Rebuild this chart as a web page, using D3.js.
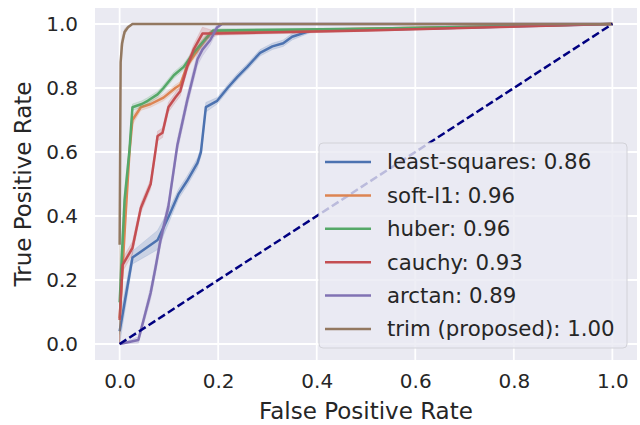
<!DOCTYPE html>
<html>
<head>
<meta charset="utf-8">
<script src="https://cdn.jsdelivr.net/npm/d3@7"></script>
<style>
  body { margin: 0; background: #fff; }
  svg { display: block; font-family: "DejaVu Sans", sans-serif; }
</style>
</head>
<body>
<svg id="rocSvg" width="640" height="425"></svg>
<script>
// series: fpr / tpr / ci half-width
const seriesNames = ["least-squares", "soft-l1", "huber", "cauchy", "arctan", "trim (proposed)"];
const aucValues = [0.86, 0.96, 0.96, 0.93, 0.89, 1.0];
const tickValues = [0, 0.2, 0.4, 0.6, 0.8, 1.0];

const lsFpr = [0, 0.026, 0.077, 0.10, 0.12, 0.137, 0.158, 0.165, 0.175, 0.198, 0.219, 0.239, 0.259, 0.285, 0.31, 0.332, 0.35, 0.39, 0.6, 1.0];
const lsTpr = [0.04, 0.27, 0.325, 0.40, 0.47, 0.51, 0.566, 0.60, 0.74, 0.76, 0.80, 0.835, 0.866, 0.91, 0.93, 0.94, 0.96, 0.98, 0.985, 1.0];
const lsCi = [0.04, 0.02, 0.03, 0.02, 0.015, 0.015, 0.015, 0.015, 0.015, 0.01, 0.01, 0.01, 0.01, 0.01, 0.01, 0.01, 0.01, 0.005, 0.003, 0];

const softFpr = [0, 0.012, 0.02, 0.026, 0.043, 0.063, 0.089, 0.113, 0.123, 0.137, 0.164, 0.184, 0.2, 0.5, 1.0];
const softTpr = [0.08, 0.4, 0.6, 0.70, 0.74, 0.75, 0.77, 0.80, 0.81, 0.87, 0.93, 0.97, 0.975, 0.985, 1.0];
const softCi = [0.08, 0.03, 0.02, 0.015, 0.01, 0.01, 0.01, 0.01, 0.01, 0.01, 0.01, 0.01, 0.005, 0.003, 0];

const huberFpr = [0, 0.01, 0.02, 0.026, 0.045, 0.057, 0.077, 0.089, 0.11, 0.13, 0.15, 0.178, 0.19, 0.5, 1.0];
const huberTpr = [0.13, 0.45, 0.606, 0.74, 0.75, 0.76, 0.78, 0.80, 0.84, 0.866, 0.91, 0.96, 0.98, 0.985, 1.0];
const huberCi = [0.1, 0.03, 0.02, 0.01, 0.01, 0.01, 0.01, 0.01, 0.01, 0.01, 0.01, 0.01, 0.005, 0.003, 0];

const cauchyFpr = [0, 0.006, 0.026, 0.043, 0.063, 0.073, 0.077, 0.087, 0.099, 0.113, 0.123, 0.137, 0.15, 0.168, 0.2, 0.5, 1.0];
const cauchyTpr = [0.075, 0.247, 0.30, 0.425, 0.50, 0.606, 0.65, 0.66, 0.74, 0.77, 0.79, 0.866, 0.92, 0.97, 0.97, 0.98, 1.0];
const cauchyCi = [0.07, 0.02, 0.02, 0.015, 0.015, 0.015, 0.015, 0.015, 0.015, 0.015, 0.015, 0.015, 0.015, 0.02, 0.005, 0.003, 0];

const arctanFpr = [0, 0.038, 0.063, 0.073, 0.083, 0.099, 0.117, 0.137, 0.158, 0.168, 0.184, 0.198, 0.208, 1.0];
const arctanTpr = [0, 0.0125, 0.16, 0.24, 0.325, 0.43, 0.62, 0.76, 0.89, 0.92, 0.95, 0.99, 1.0, 1.0];
const arctanCi = [0, 0.01, 0.02, 0.02, 0.02, 0.02, 0.02, 0.02, 0.02, 0.02, 0.015, 0.01, 0, 0];

const trimFpr = [0, 0.002, 0.005, 0.01, 0.017, 0.026, 1.0];
const trimTpr = [0.31, 0.88, 0.94, 0.975, 0.99, 1.0, 1.0];
const trimCi = [0.31, 0.05, 0.02, 0.01, 0.005, 0, 0];

const diagFpr = [0, 1];
const diagTpr = [0, 1];

const fprData = [lsFpr, softFpr, huberFpr, cauchyFpr, arctanFpr, trimFpr];
const tprData = [lsTpr, softTpr, huberTpr, cauchyTpr, arctanTpr, trimTpr];
const ciData = [lsCi, softCi, huberCi, cauchyCi, arctanCi, trimCi];

const colors = ["#4C72B0", "#DD8452", "#55A868", "#C44E52", "#8172B3", "#937860"];

const svg = d3.select("#rocSvg");
const plotLeft = 95, plotRight = 637, plotTop = 8, plotBottom = 360;

const x = d3.scaleLinear().domain([-0.05, 1.05]).range([plotLeft, plotRight]);
const y = d3.scaleLinear().domain([-0.05, 1.05]).range([plotBottom, plotTop]);

svg.append("rect")
  .attr("x", plotLeft)
  .attr("y", plotTop)
  .attr("width", plotRight - plotLeft)
  .attr("height", plotBottom - plotTop)
  .attr("fill", "#EAEAF2");

const clip = svg.append("clipPath").attr("id", "plotClip");
clip.append("rect")
  .attr("x", plotLeft)
  .attr("y", plotTop)
  .attr("width", plotRight - plotLeft)
  .attr("height", plotBottom - plotTop);

// grid
const grid = svg.append("g");
grid.selectAll(".vgrid")
  .data(tickValues)
  .enter()
  .append("line")
  .attr("x1", (d) => x(d))
  .attr("x2", (d) => x(d))
  .attr("y1", plotTop)
  .attr("y2", plotBottom)
  .attr("stroke", "#fff")
  .attr("stroke-width", 1.8);
grid.selectAll(".hgrid")
  .data(tickValues)
  .enter()
  .append("line")
  .attr("x1", plotLeft)
  .attr("x2", plotRight)
  .attr("y1", (d) => y(d))
  .attr("y2", (d) => y(d))
  .attr("stroke", "#fff")
  .attr("stroke-width", 1.8);

// axes
const xAxis = svg.append("g")
  .attr("transform", `translate(0, ${plotBottom})`)
  .call(d3.axisBottom(x).tickValues(tickValues).tickFormat(d3.format(".1f")).tickSize(0).tickPadding(14));
const yAxis = svg.append("g")
  .attr("transform", `translate(${plotLeft}, 0)`)
  .call(d3.axisLeft(y).tickValues(tickValues).tickFormat(d3.format(".1f")).tickSize(0).tickPadding(17));
[xAxis, yAxis].forEach((a) => {
  a.select(".domain").remove();
  a.selectAll("text")
    .attr("font-family", "DejaVu Sans")
    .attr("font-size", 20)
    .attr("fill", "#262626");
});

svg.append("text")
  .attr("x", x(0.5))
  .attr("y", 419)
  .attr("text-anchor", "middle")
  .attr("font-size", 23)
  .attr("fill", "#262626")
  .text("False Positive Rate");

svg.append("text")
  .attr("transform", `translate(31, ${(plotTop + plotBottom) / 2}) rotate(-90)`)
  .attr("text-anchor", "middle")
  .attr("font-size", 23)
  .attr("fill", "#262626")
  .text("True Positive Rate");

const plot = svg.append("g").attr("clip-path", "url(#plotClip)");

const line = d3.line()
  .x((d) => x(d.fpr))
  .y((d) => y(d.tpr));
const area = d3.area()
  .x((d) => x(d.fpr))
  .y0((d) => y(Math.max(0, d.tpr - d.ci)))
  .y1((d) => y(Math.min(1, d.tpr + d.ci)));

const seriesData = seriesNames.map((name, i) =>
  fprData[i].map((f, j) => ({ fpr: f, tpr: tprData[i][j], ci: ciData[i][j] }))
);

seriesData.forEach((pts, i) => {
  plot.append("path")
    .attr("d", area(pts))
    .attr("fill", colors[i])
    .attr("fill-opacity", 0.2)
    .attr("stroke", colors[i])
    .attr("stroke-opacity", 0.15)
    .attr("stroke-width", 1);
  plot.append("path")
    .attr("d", line(pts))
    .attr("fill", "none")
    .attr("stroke", colors[i])
    .attr("stroke-width", 2.5)
    .attr("stroke-linejoin", "round");
});

// chance diagonal
plot.append("path")
  .attr("d", line(diagFpr.map((f, j) => ({ fpr: f, tpr: diagTpr[j] }))))
  .attr("fill", "none")
  .attr("stroke", "#000080")
  .attr("stroke-width", 2.5)
  .attr("stroke-dasharray", "8,3.5");

// legend
const legendX = 319, legendY = 143, legendW = 308, legendH = 205;
const legend = svg.append("g").attr("transform", `translate(${legendX}, ${legendY})`);
legend.append("rect")
  .attr("width", legendW)
  .attr("height", legendH)
  .attr("rx", 4)
  .attr("fill", "#EAEAF2")
  .attr("fill-opacity", 0.8)
  .attr("stroke", "#d2d2d8")
  .attr("stroke-width", 1);

const legendRows = legend.selectAll(".legend")
  .data(seriesNames)
  .enter()
  .append("g")
  .attr("class", "legend")
  .attr("transform", (d, i) => `translate(0, ${19 + i * 33.4})`);

legendRows.append("line")
  .attr("x1", 6)
  .attr("x2", 52)
  .attr("stroke", (d, i) => colors[i])
  .attr("stroke-width", 2.5);

legendRows.append("text")
  .attr("x", 68)
  .attr("dy", "0.35em")
  .attr("font-size", 21.3)
  .attr("fill", "#262626")
  .text((d, i) => `${d}: ${aucValues[i].toFixed(2)}`);
</script>
</body>
</html>
